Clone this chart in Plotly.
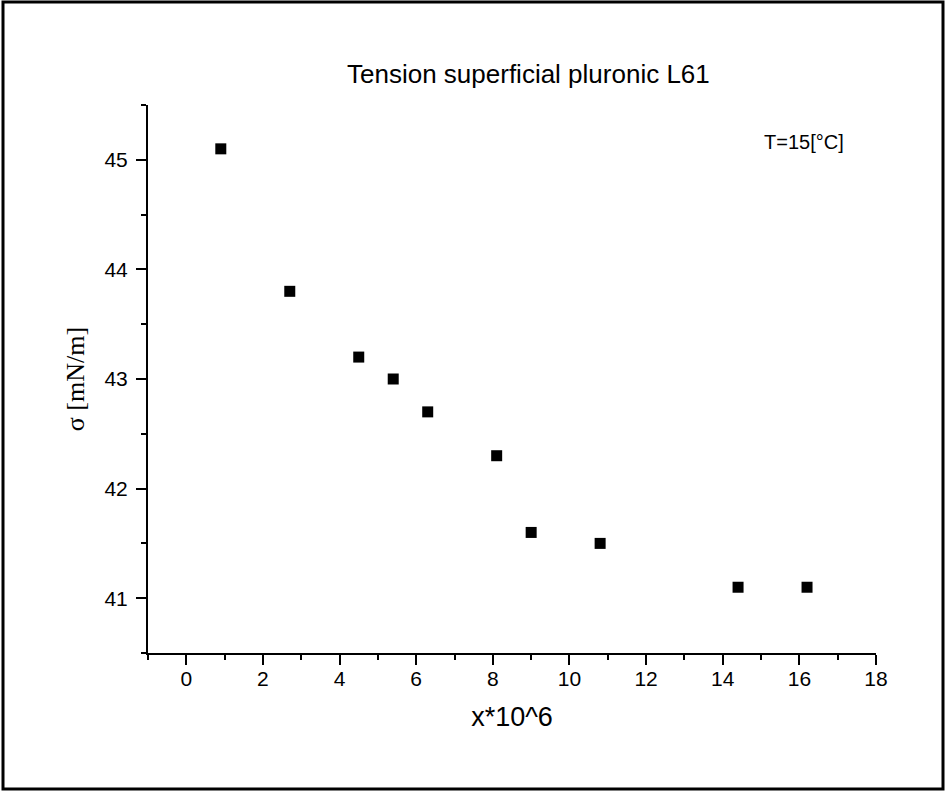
import plotly.graph_objects as go

x_vals = [0.9, 2.7, 4.5, 5.4, 6.3, 8.1, 9.0, 10.8, 14.4, 16.2]
sigma_vals = [45.1, 43.8, 43.2, 43.0, 42.7, 42.3, 41.6, 41.5, 41.1, 41.1]
title_text = "Tension superficial pluronic L61"
x_title = "x*10^6"
y_title = "σ [mN/m]"
note_text = "T=15[°C]"

W, H = 946, 792
ML, MR, MT, MB = 148, 70, 105, 139
pw, ph = W - ML - MR, H - MT - MB

def px2paper_x(px):
    return (px - ML) / pw

def px2paper_y(py):
    return (H - MB - py) / ph

fig = go.Figure()
fig.add_trace(go.Scatter(
    x=x_vals, y=sigma_vals, mode="markers",
    marker=dict(symbol="square", size=11, color="black", line=dict(width=0)),
    showlegend=False,
))

axis_common = dict(
    showgrid=False, zeroline=False, showline=True, linecolor="black", linewidth=2,
    ticks="outside", tickcolor="black", tickwidth=2, ticklen=10,
    tickfont=dict(family="Liberation Sans, Arial", size=21, color="black"),
    mirror=False,
)

fig.update_layout(
    width=W, height=H,
    margin=dict(l=ML, r=MR, t=MT, b=MB),
    paper_bgcolor="white", plot_bgcolor="white",
    xaxis=dict(
        range=[-1, 18], dtick=2, tick0=0,
        minor=dict(dtick=1, tick0=0, ticks="outside", ticklen=5, tickwidth=2, tickcolor="black"),
        ticklabelstandoff=-4,
        title=dict(text=x_title, font=dict(family="Liberation Sans, Arial", size=27, color="black"), standoff=18),
        **axis_common,
    ),
    yaxis=dict(
        range=[40.5, 45.5], dtick=1, tick0=41,
        minor=dict(dtick=0.5, tick0=40.5, ticks="outside", ticklen=5, tickwidth=2, tickcolor="black"),
        ticklabelstandoff=4,
        title=dict(text=y_title, font=dict(family="Liberation Serif, Times New Roman", size=26, color="black"), standoff=12),
        **axis_common,
    ),
    annotations=[
        dict(text=title_text, x=px2paper_x(528), y=px2paper_y(74), xref="paper", yref="paper",
             showarrow=False, xanchor="center", yanchor="middle",
             font=dict(family="Liberation Sans, Arial", size=26, color="black")),
        dict(text=note_text, x=px2paper_x(762), y=px2paper_y(142), xref="paper", yref="paper",
             showarrow=False, xanchor="left", yanchor="middle",
             font=dict(family="Liberation Sans, Arial", size=20, color="black")),
    ],
    shapes=[
        dict(type="rect", xref="paper", yref="paper",
             x0=px2paper_x(3), x1=px2paper_x(943), y0=px2paper_y(789), y1=px2paper_y(2),
             line=dict(color="black", width=3), fillcolor="rgba(0,0,0,0)", layer="above"),
    ],
)

fig.write_html("out.html")
